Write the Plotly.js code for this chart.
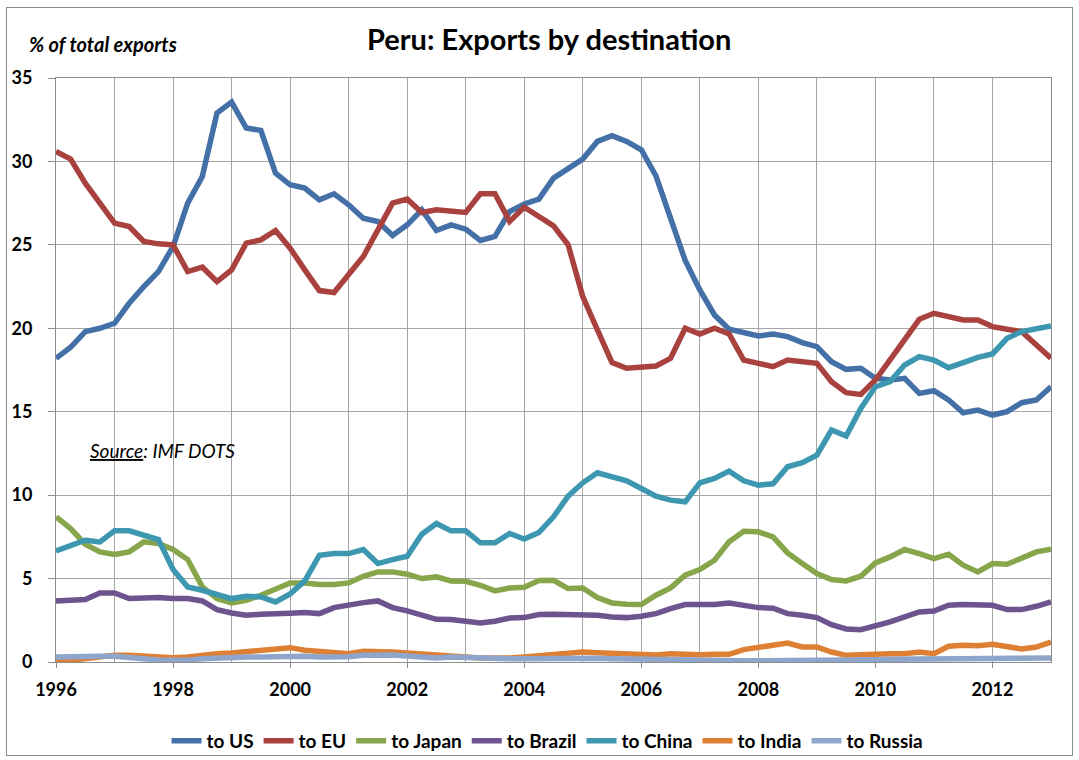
<!DOCTYPE html>
<html>
<head>
<meta charset="utf-8">
<script src="https://cdn.plot.ly/plotly-3.0.1.min.js"></script>
<style>
  html, body { margin: 0; padding: 0; background: #ffffff; }
  #wrap { position: relative; width: 1079px; height: 760px; }
  #chart { position: absolute; left: 0; top: 0; width: 1079px; height: 760px; }
  #frame { position: absolute; left: 6px; top: 7px; width: 1065px; height: 747px; border: 1px solid #8c8c8c; pointer-events: none; }
</style>
</head>
<body>
<div id="wrap">
  <div id="chart"></div>
  <div id="frame"></div>
</div>
<script>
// Quarterly observations, first quarter of 1996 through first quarter of 2013
const startYear = 1996;
const seriesNames = ["to US", "to EU", "to Japan", "to Brazil", "to China", "to India", "to Russia"];
const yTickVals = [0, 5, 10, 15, 20, 25, 30, 35];
const xTickYears = [1996, 1998, 2000, 2002, 2004, 2006, 2008, 2010, 2012];

const toUS = [18.2, 18.86, 19.8, 20.0, 20.3, 21.5, 22.5, 23.4, 24.9, 27.5, 29.1, 32.9, 33.56, 32.0, 31.86, 29.3,
  28.6, 28.4, 27.7, 28.06, 27.4, 26.6, 26.4, 25.56, 26.2, 27.1, 25.86, 26.2, 25.94, 25.26, 25.5, 27.0,
  27.45, 27.74, 29.0, 29.54, 30.14, 31.2, 31.54, 31.2, 30.7, 29.14, 26.6, 24.06, 22.3, 20.8, 19.94, 19.7,
  19.54, 19.65, 19.5, 19.14, 18.9, 18.0, 17.54, 17.6, 17.0, 16.9, 17.0, 16.1, 16.26, 15.7, 14.94, 15.1,
  14.8, 15.0, 15.54, 15.7, 16.5];
const toEU = [30.6, 30.14, 28.7, 27.5, 26.3, 26.1, 25.2, 25.06, 25.0, 23.4, 23.66, 22.8, 23.5, 25.1, 25.3, 25.86,
  24.8, 23.5, 22.26, 22.14, 23.2, 24.3, 25.9, 27.5, 27.74, 26.94, 27.1, 27.06, 26.94, 28.06, 28.06, 26.4,
  27.26, 26.7, 26.14, 25.0, 21.9, 19.9, 17.94, 17.6, 17.64, 17.74, 18.2, 20.0, 19.66, 20.0, 19.66, 18.1,
  17.9, 17.7, 18.1, 18.0, 17.9, 16.8, 16.14, 16.04, 16.9, 18.1, 19.3, 20.54, 20.9, 20.74, 20.5, 20.5,
  20.1, 19.94, 19.8, 19.0, 18.2];
const toJapan = [8.7, 8.0, 7.06, 6.6, 6.44, 6.6, 7.2, 7.1, 6.74, 6.14, 4.5, 3.8, 3.54, 3.7, 4.0, 4.4,
  4.74, 4.74, 4.64, 4.64, 4.74, 5.14, 5.4, 5.4, 5.26, 5.0, 5.1, 4.86, 4.84, 4.6, 4.26, 4.44,
  4.48, 4.88, 4.9, 4.4, 4.44, 3.86, 3.54, 3.46, 3.44, 4.0, 4.44, 5.2, 5.54, 6.1, 7.2, 7.84,
  7.8, 7.5, 6.54, 5.9, 5.3, 4.94, 4.86, 5.14, 5.94, 6.3, 6.74, 6.5, 6.2, 6.46, 5.8, 5.4,
  5.9, 5.86, 6.26, 6.6, 6.76];
const toBrazil = [3.66, 3.7, 3.74, 4.14, 4.14, 3.8, 3.86, 3.86, 3.8, 3.8, 3.66, 3.14, 2.94, 2.8, 2.86, 2.86,
  2.92, 2.96, 2.9, 3.26, 3.44, 3.56, 3.66, 3.26, 3.06, 2.8, 2.56, 2.54, 2.44, 2.34, 2.44, 2.64,
  2.66, 2.84, 2.86, 2.86, 2.86, 2.8, 2.7, 2.66, 2.74, 2.9, 3.2, 3.44, 3.44, 3.44, 3.54, 3.36,
  3.26, 3.22, 2.9, 2.8, 2.66, 2.24, 1.98, 1.94, 2.16, 2.4, 2.7, 3.0, 3.06, 3.4, 3.44, 3.46,
  3.4, 3.14, 3.14, 3.34, 3.6];
const toChina = [6.66, 6.94, 7.3, 7.2, 7.86, 7.86, 7.6, 7.34, 5.54, 4.5, 4.3, 4.06, 3.8, 3.94, 3.9, 3.6,
  4.08, 4.86, 6.4, 6.5, 6.5, 6.74, 5.9, 6.14, 6.34, 7.66, 8.3, 7.86, 7.86, 7.14, 7.14, 7.7,
  7.37, 7.76, 8.7, 9.94, 10.74, 11.34, 11.1, 10.86, 10.4, 9.94, 9.7, 9.6, 10.74, 11.0, 11.44, 10.86,
  10.6, 10.68, 11.7, 11.94, 12.4, 13.9, 13.54, 15.2, 16.5, 16.8, 17.8, 18.3, 18.1, 17.64, 17.94, 18.26,
  18.46, 19.4, 19.8, 19.94, 20.14];
const toIndia = [0.0, 0.1, 0.2, 0.3, 0.4, 0.4, 0.34, 0.3, 0.26, 0.3, 0.44, 0.5, 0.54, 0.6, 0.66, 0.8,
  0.86, 0.7, 0.66, 0.58, 0.5, 0.64, 0.64, 0.6, 0.54, 0.46, 0.42, 0.34, 0.3, 0.24, 0.2, 0.24,
  0.3, 0.38, 0.4, 0.46, 0.6, 0.56, 0.54, 0.5, 0.42, 0.42, 0.5, 0.44, 0.44, 0.46, 0.46, 0.74,
  0.86, 1.04, 1.14, 0.9, 0.9, 0.6, 0.4, 0.44, 0.5, 0.5, 0.5, 0.6, 0.5, 0.94, 1.0, 0.98,
  1.06, 0.9, 0.78, 0.9, 1.2];
const toRussia = [0.3, 0.34, 0.34, 0.34, 0.34, 0.24, 0.18, 0.12, 0.1, 0.1, 0.2, 0.26, 0.24, 0.3, 0.3, 0.34,
  0.38, 0.34, 0.3, 0.3, 0.32, 0.4, 0.44, 0.42, 0.36, 0.3, 0.24, 0.3, 0.26, 0.24, 0.24, 0.2,
  0.2, 0.22, 0.24, 0.24, 0.22, 0.22, 0.2, 0.18, 0.16, 0.14, 0.12, 0.12, 0.12, 0.1, 0.1, 0.08,
  0.08, 0.08, 0.06, 0.06, 0.06, 0.08, 0.1, 0.12, 0.14, 0.16, 0.16, 0.18, 0.18, 0.18, 0.18, 0.2,
  0.2, 0.22, 0.22, 0.24, 0.24];

const seriesValues = [toUS, toEU, toJapan, toBrazil, toChina, toIndia, toRussia];
const seriesColors = ["#4470A8", "#A9423F", "#87A54B", "#6E548E", "#3D97B0", "#DE8034", "#8EA6CC"];

const quarterX = toUS.map((_, i) => startYear + i / 4);

const traces = seriesValues.map((vals, k) => ({
  type: "scatter",
  mode: "lines",
  name: seriesNames[k],
  x: quarterX,
  y: vals,
  line: { color: seriesColors[k], width: 5.5, shape: "linear" },
  hoverinfo: "x+y+name"
}));

const fontFam = "Lato, 'Open Sans', 'Liberation Sans', sans-serif";

const layout = {
  width: 1079,
  height: 760,
  paper_bgcolor: "#ffffff",
  plot_bgcolor: "#ffffff",
  margin: { l: 56, r: 28, t: 78, b: 98, autoexpand: false },
  font: { family: fontFam, color: "#000000" },
  title: {
    text: "<b>Peru: Exports by destination</b>",
    font: { family: fontFam, size: 29, color: "#000000" },
    x: 0.509, xanchor: "center",
    y: 0.947, yanchor: "middle"
  },
  xaxis: {
    range: [1996, 2013],
    tickmode: "array",
    tickvals: xTickYears,
    ticktext: xTickYears.map(String),
    tickfont: { family: fontFam, size: 18, color: "#000000", weight: "bold" },
    ticks: "outside",
    ticklen: 5,
    tickcolor: "#8c8c8c",
    ticklabelstandoff: 6,
    showgrid: true,
    gridcolor: "#a6a6a6",
    gridwidth: 1,
    minor: { dtick: 1, tick0: 1996, showgrid: true, gridcolor: "#a6a6a6", gridwidth: 1, ticks: "" },
    showline: true,
    linecolor: "#8c8c8c",
    linewidth: 1,
    mirror: true,
    zeroline: false,
    fixedrange: true
  },
  yaxis: {
    range: [0, 35],
    tickmode: "array",
    tickvals: yTickVals,
    ticktext: yTickVals.map(String),
    tickfont: { family: fontFam, size: 18, color: "#000000", weight: "bold" },
    ticks: "outside",
    ticklen: 7,
    tickcolor: "#8c8c8c",
    ticklabelstandoff: 12,
    showgrid: true,
    gridcolor: "#a6a6a6",
    gridwidth: 1,
    showline: true,
    linecolor: "#8c8c8c",
    linewidth: 1,
    mirror: true,
    zeroline: false,
    fixedrange: true
  },
  legend: {
    orientation: "h",
    x: 0.494, xanchor: "center",
    y: -0.135, yanchor: "middle",
    font: { family: fontFam, size: 19, color: "#000000", weight: "bold" },
    itemwidth: 30,
    tracegroupgap: 0,
    bgcolor: "rgba(0,0,0,0)"
  },
  annotations: [
    {
      text: "<b><i>% of total exports</i></b>",
      xref: "paper", yref: "paper",
      x: -0.029, xanchor: "left",
      y: 1.058, yanchor: "middle",
      showarrow: false,
      font: { family: fontFam, size: 20, color: "#000000" }
    },
    {
      text: "<i><u>Source</u>: IMF DOTS</i>",
      xref: "paper", yref: "paper",
      x: 0.032, xanchor: "left",
      y: 0.363, yanchor: "middle",
      showarrow: false,
      font: { family: fontFam, size: 19, color: "#000000" }
    }
  ],
  showlegend: true
};

Plotly.newPlot("chart", traces, layout, { displayModeBar: false, staticPlot: false });
</script>
</body>
</html>
